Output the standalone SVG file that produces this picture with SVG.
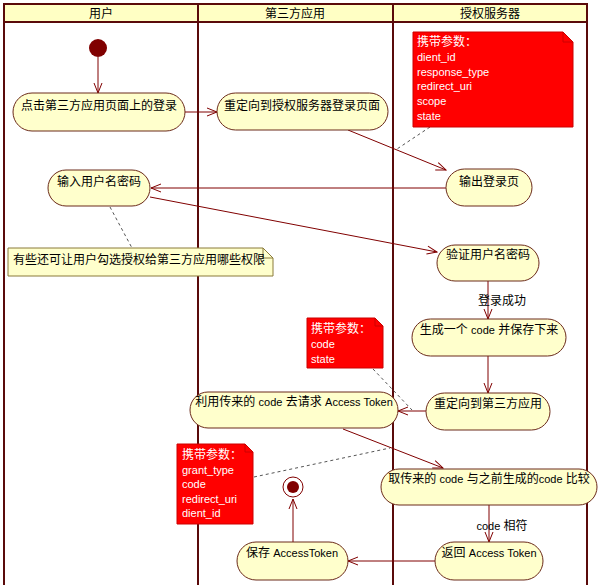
<svg xmlns="http://www.w3.org/2000/svg" width="600" height="585" viewBox="0 0 600 585">
<defs>
<style>
.frame{fill:none;stroke:#5a0a0a;stroke-width:2}
.hdr{fill:#ffffc4;stroke:#5a0a0a;stroke-width:2}
.node{fill:#ffffcc;stroke:#6b2a1a;stroke-width:1}
.t{font-family:"Liberation Sans","Noto Sans CJK SC",sans-serif;font-size:12px;fill:#000}
.l{font-size:11px}
.tm{text-anchor:middle}
.w{fill:#fff}
.c{fill:none;stroke:#800000;stroke-width:1}
.d{fill:none;stroke:#555;stroke-width:1;stroke-dasharray:3,3}
.rn{fill:#ff0000;stroke:#cc0000;stroke-width:1}
.yn{fill:#ffffcc;stroke:#8a7a3a;stroke-width:1}
</style>
<marker id="ah" markerWidth="12" markerHeight="10" refX="11" refY="5" orient="auto" markerUnits="userSpaceOnUse">
<path d="M1,1 L11,5 L1,9" fill="none" stroke="#800000" stroke-width="1"/>
</marker>
</defs>
<rect width="600" height="585" fill="#fff"/>
<g id="swimlanes">
<rect class="hdr" x="4" y="4" width="583" height="18"/>
<line class="frame" x1="4" y1="4" x2="4" y2="585"/>
<line class="frame" x1="198" y1="4" x2="198" y2="585"/>
<line class="frame" x1="393" y1="4" x2="393" y2="585"/>
<line class="frame" x1="587" y1="4" x2="587" y2="585"/>
<text class="t tm" x="101" y="18">用户</text>
<text class="t tm" x="295" y="18">第三方应用</text>
<text class="t tm" x="490" y="18">授权服务器</text>
</g>
<g id="connectors">
<line class="c" x1="98" y1="57" x2="98" y2="93" marker-end="url(#ah)"/>
<line class="c" x1="185" y1="112" x2="217" y2="112" marker-end="url(#ah)"/>
<line class="c" x1="348" y1="130" x2="446" y2="170" marker-end="url(#ah)"/>
<line class="c" x1="446" y1="188" x2="151" y2="188" marker-end="url(#ah)"/>
<line class="c" x1="150" y1="197" x2="437" y2="252" marker-end="url(#ah)"/>
<line class="c" x1="488" y1="281" x2="488" y2="319" marker-end="url(#ah)"/>
<line class="c" x1="488" y1="356" x2="488" y2="393" marker-end="url(#ah)"/>
<line class="c" x1="426" y1="411" x2="398" y2="411" marker-end="url(#ah)"/>
<line class="c" x1="343" y1="429" x2="443" y2="468" marker-end="url(#ah)"/>
<line class="c" x1="489" y1="505" x2="489" y2="542" marker-end="url(#ah)"/>
<line class="c" x1="435" y1="561" x2="348" y2="561" marker-end="url(#ah)"/>
<line class="c" x1="293" y1="542" x2="293" y2="499" marker-end="url(#ah)"/>
<line class="d" x1="430" y1="127" x2="397" y2="149"/>
<line class="d" x1="110" y1="207" x2="132" y2="248"/>
<line class="d" x1="373" y1="369" x2="412" y2="410"/>
<line class="d" x1="254" y1="477" x2="390" y2="448"/>
<text class="t tm" x="502" y="305">登录成功</text>
<text class="t tm" x="502" y="530"><tspan class="l">code</tspan> 相符</text>
</g>
<g id="start">
<circle cx="98" cy="48" r="9" fill="#800000"/>
</g>
<g id="n1">
<rect class="node" x="13" y="93" width="172" height="38" rx="19"/>
<text class="t tm" x="99" y="110">点击第三方应用页面上的登录</text>
</g>
<g id="n2">
<rect class="node" x="217" y="93" width="171" height="37" rx="18.5"/>
<text class="t tm" x="302" y="110">重定向到授权服务器登录页面</text>
</g>
<g id="note1">
<polygon class="rn" points="413,32 563,32 573,42 573,127 413,127"/>
<polyline fill="none" stroke="#cc0000" points="563,32 563,42 573,42"/>
<text class="t w" x="417" y="46">携带参数：</text>
<text class="t w l" x="417" y="61">dient_id</text>
<text class="t w l" x="417" y="76">response_type</text>
<text class="t w l" x="417" y="90">redirect_uri</text>
<text class="t w l" x="417" y="105">scope</text>
<text class="t w l" x="417" y="120">state</text>
</g>
<g id="n3">
<rect class="node" x="446" y="169" width="86" height="37" rx="18.5"/>
<text class="t tm" x="489" y="186">输出登录页</text>
</g>
<g id="n4">
<rect class="node" x="48" y="170" width="102" height="36" rx="18"/>
<text class="t tm" x="99" y="186">输入用户名密码</text>
</g>
<g id="note2">
<polygon class="yn" points="8,248 263,248 273,258 273,276 8,276"/>
<polyline fill="none" stroke="#8a7a3a" points="263,248 263,258 273,258"/>
<text class="t" x="13" y="264">有些还可让用户勾选授权给第三方应用哪些权限</text>
</g>
<g id="n5">
<rect class="node" x="437" y="245" width="102" height="36" rx="18"/>
<text class="t tm" x="488" y="259">验证用户名密码</text>
</g>
<g id="n6">
<rect class="node" x="412" y="319" width="154" height="37" rx="18.5"/>
<text class="t tm" x="489" y="334">生成一个 <tspan class="l">code</tspan> 并保存下来</text>
</g>
<g id="note3">
<polygon class="rn" points="307,318 375,318 383,326 383,368 307,368"/>
<polyline fill="none" stroke="#cc0000" points="375,318 375,326 383,326"/>
<text class="t w" x="311" y="333">携带参数：</text>
<text class="t w l" x="311" y="348">code</text>
<text class="t w l" x="311" y="363">state</text>
</g>
<g id="n7">
<rect class="node" x="426" y="393" width="124" height="37" rx="18.5"/>
<text class="t tm" x="488" y="408">重定向到第三方应用</text>
</g>
<g id="n8">
<rect class="node" x="190" y="392" width="208" height="36" rx="18"/>
<text class="t tm" x="294" y="406">利用传来的 <tspan class="l">code</tspan> 去请求 <tspan class="l">Access Token</tspan></text>
</g>
<g id="n9">
<rect class="node" x="381" y="469" width="216" height="36" rx="18"/>
<text class="t tm" x="489" y="483">取传来的 <tspan class="l">code</tspan> 与之前生成的<tspan class="l">code</tspan> 比较</text>
</g>
<g id="note4">
<polygon class="rn" points="177,444 245,444 253,452 253,524 177,524"/>
<polyline fill="none" stroke="#cc0000" points="245,444 245,452 253,452"/>
<text class="t w" x="182" y="459">携带参数：</text>
<text class="t w l" x="182" y="474">grant_type</text>
<text class="t w l" x="182" y="488">code</text>
<text class="t w l" x="182" y="503">redirect_uri</text>
<text class="t w l" x="182" y="517">dient_id</text>
</g>
<g id="end">
<circle cx="293" cy="487" r="10" fill="#fff" stroke="#800000" stroke-width="1"/>
<circle cx="293" cy="487" r="6" fill="#800000"/>
</g>
<g id="n10">
<rect class="node" x="237" y="542" width="111" height="38" rx="19"/>
<text class="t tm" x="292" y="557">保存 <tspan class="l">AccessToken</tspan></text>
</g>
<g id="n11">
<rect class="node" x="435" y="542" width="108" height="38" rx="19"/>
<text class="t tm" x="489" y="557">返回 <tspan class="l">Access Token</tspan></text>
</g>
</svg>
